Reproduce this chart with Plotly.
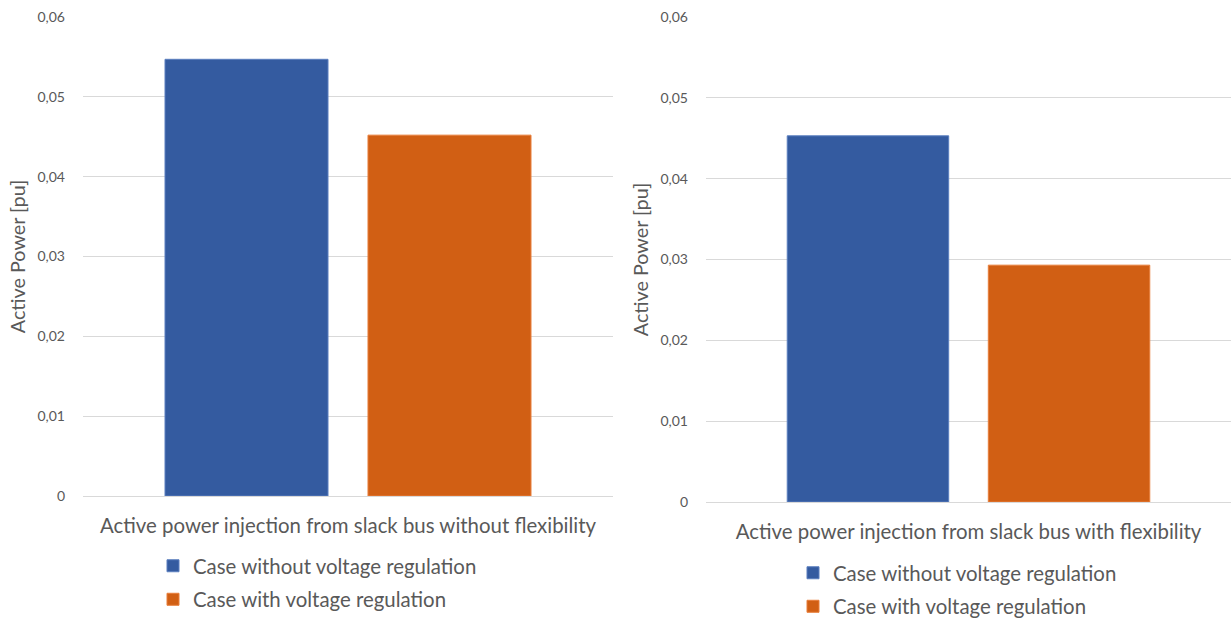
import plotly.graph_objects as go

# Slack-bus active power injection, two scenarios
cat_left = ["Active power injection from slack bus without flexibility"]
cat_right = ["Active power injection from slack bus with flexibility"]
series_names = ["Case without voltage regulation", "Case with voltage regulation"]
left_values = [0.0547, 0.0452]    # without flexibility
right_values = [0.0453, 0.0293]   # with flexibility

tick_vals = [0, 0.01, 0.02, 0.03, 0.04, 0.05, 0.06]
tick_text = ["0", "0,01", "0,02", "0,03", "0,04", "0,05", "0,06"]

colors = ["#345BA0", "#D15F14"]
line_colors = ["#5B7FBF", "#E87E3A"]
FONT = "Lato"
GREY = "#595959"
W, H = 1231, 619

fig = go.Figure()

for i, name in enumerate(series_names):
    fig.add_trace(go.Bar(
        x=cat_left, y=[left_values[i]], name=name,
        marker=dict(color=colors[i], line=dict(width=1, color=line_colors[i])),
        xaxis="x", yaxis="y", legend="legend", legendgroup=f"a{i}",
    ))
for i, name in enumerate(series_names):
    fig.add_trace(go.Bar(
        x=cat_right, y=[right_values[i]], name=name,
        marker=dict(color=colors[i], line=dict(width=1, color=line_colors[i])),
        xaxis="x2", yaxis="y2", legend="legend2", legendgroup=f"b{i}",
    ))


def px_x(p):
    return p / W


def px_y(p):
    return (H - p) / H


yaxis_common = dict(
    range=[0, 0.06], tickvals=tick_vals, ticktext=tick_text,
    showgrid=True, gridcolor="#D9D9D9", gridwidth=1,
    zeroline=False, showline=False,
    tickfont=dict(family=FONT, size=14, color=GREY),
    ticklabelstandoff=17,
    title=dict(text="Active Power [pu]", font=dict(family=FONT, size=19.8, color=GREY), standoff=6),
    fixedrange=True,
)
xaxis_common = dict(
    showgrid=False, zeroline=False, showline=True, linecolor="#D9D9D9", linewidth=1,
    tickfont=dict(family=FONT, size=20.4, color=GREY),
    ticklabelstandoff=12,
    fixedrange=True,
)
legend_common = dict(
    xanchor="left", yanchor="top", orientation="v",
    font=dict(family=FONT, size=20.4, color=GREY),
    bgcolor="rgba(0,0,0,0)", tracegroupgap=4,
    itemclick=False, itemdoubleclick=False,
)

fig.update_layout(
    width=W, height=H,
    margin=dict(l=0, r=0, t=0, b=0, autoexpand=False),
    paper_bgcolor="white", plot_bgcolor="white",
    barmode="group", bargap=0.234, bargroupgap=0.197,
    separators=",.",
    showlegend=True,
    xaxis=dict(domain=[px_x(83), px_x(613)], anchor="y", **xaxis_common),
    yaxis=dict(domain=[px_y(496), px_y(17)], anchor="x", **yaxis_common),
    xaxis2=dict(domain=[px_x(706), 1.0], anchor="y2", **xaxis_common),
    yaxis2=dict(domain=[px_y(502), px_y(17)], anchor="x2", **yaxis_common),
    legend=dict(x=px_x(153), y=px_y(546), **legend_common),
    legend2=dict(x=px_x(793), y=px_y(553), **legend_common),
)

fig.write_html("out.html")
